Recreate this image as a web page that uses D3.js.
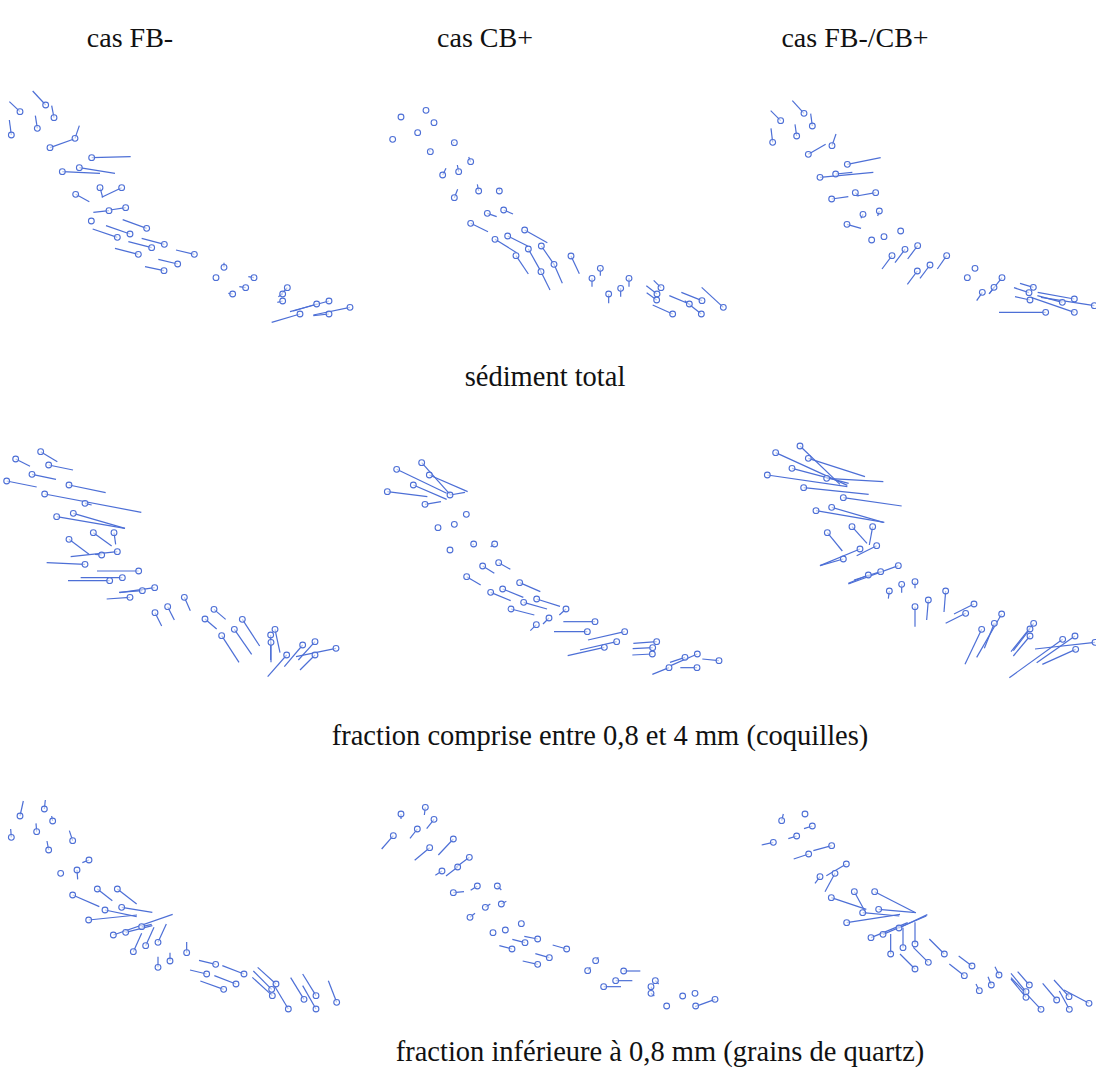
<!DOCTYPE html>
<html><head><meta charset="utf-8">
<script src="https://cdn.jsdelivr.net/npm/d3@7"></script>
<style>body{margin:0;background:#fff}svg{display:block}</style>
</head><body>
<script>
// Column / row labels
const columnTitles = ["cas FB-", "cas CB+", "cas FB-/CB+"];
const rowTitles = ["sédiment total", "fraction comprise entre 0,8 et 4 mm (coquilles)", "fraction inférieure à 0,8 mm (grains de quartz)"];

// Station vectors per panel: [x, y, u, v] in map grid units (y downward)
const p11 = [[60,80,-32,-30],[137,60,-39,-42],[162,98,-7,-36],[34,150,-6,-45],[112,130,-6,-38],[150,188,72,-26],[225,160,13,-38],[275,218,117,-3],[187,260,113,5],[238,248,107,17],[227,328,41,22],[300,308,8,29],[365,308,-60,29],[327,377,-47,5],[377,368,-47,7],[274,408,0,0],[440,430,-72,-26],[390,447,-72,-25],[352,457,-74,-25],[493,478,-68,-18],[455,488,-70,-18],[415,508,-70,-18],[583,508,-55,-13],[533,537,-58,-14],[492,557,-57,-12],[672,547,0,-14],[648,578,0,0],[762,578,-17,-3],[737,608,-19,-3],[698,627,-13,-2],[862,608,-22,24],[848,627,-13,8],[848,648,-16,4],[987,648,-117,32],[950,657,-70,21],[1050,667,-110,23],[987,687,-47,5],[900,687,-85,25]];
const p12 = [[108,66,0,0],[183,46,0,0],[207,83,0,0],[158,113,0,0],[83,133,0,0],[268,143,-4,0],[196,170,-3,-4],[317,200,-6,-14],[233,240,10,-20],[281,230,-4,-20],[268,308,10,-25],[341,288,-4,-20],[403,288,0,-8],[367,355,28,10],[416,345,28,12],[317,385,52,25],[479,405,68,38],[428,423,60,30],[390,433,65,40],[490,462,38,68],[453,482,37,55],[529,453,38,55],[528,530,27,55],[567,508,25,57],[618,483,25,53],[706,520,0,22],[681,550,0,25],[792,550,0,25],[731,597,0,28],[767,580,0,25],[888,578,-22,-22],[876,597,-32,-25],[875,615,-30,-22],[923,657,-60,-27],[1011,617,-62,-25],[973,627,-60,-25],[1009,657,-50,-40],[1075,637,-65,-60]];
const p13 = [[152,92,-30,-30],[222,70,-35,-38],[247,108,-5,-37],[128,157,-5,-42],[200,138,-5,-35],[235,193,52,-30],[306,167,12,-35],[352,223,100,-20],[270,262,160,-15],[317,252,50,-5],[305,327,50,-7],[376,308,10,10],[437,308,-57,10],[399,373,-6,12],[448,363,-5,15],[351,403,42,12],[425,450,0,0],[462,440,0,0],[512,423,0,0],[486,497,-30,40],[525,478,-30,40],[563,467,-30,40],[562,543,-30,40],[600,525,-30,40],[650,497,-28,40],[735,535,0,0],[712,563,0,0],[816,563,-38,48],[792,592,-15,20],[757,607,-17,25],[910,592,-40,-12],[897,608,-45,-15],[900,630,-45,-10],[997,637,-75,-20],[1033,627,-110,-20],[1093,647,-160,-25],[1033,667,-130,-45],[947,667,-140,0]];
const p21 = [[122,20,50,30],[47,42,43,22],[146,60,73,15],[96,88,72,15],[20,108,90,18],[207,120,110,23],[134,147,290,55],[255,175,20,5],[170,215,205,35],[220,205,155,45],[207,283,60,45],[280,263,55,40],[342,263,5,35],[352,320,-140,15],[305,330,-20,-2],[255,358,-115,-5],[416,378,-125,0],[367,398,-125,0],[329,407,-125,0],[464,428,-105,15],[427,437,-70,5],[390,457,-70,5],[465,503,20,40],[503,485,20,40],[553,457,18,40],[642,493,35,30],[615,522,35,30],[727,523,52,80],[703,553,52,75],[665,572,52,80],[825,553,15,70],[812,570,0,75],[813,592,0,60],[860,630,-57,65],[908,600,-55,65],[945,590,-50,55],[945,630,-45,45],[1008,610,-120,25]];
const p22 = [[95,58,150,72],[170,38,85,95],[193,75,115,50],[145,105,100,43],[67,125,120,15],[255,135,45,-8],[180,163,48,-8],[304,193,0,0],[219,233,0,0],[268,223,0,0],[255,300,0,0],[326,282,-3,3],[389,282,-12,8],[353,348,35,22],[401,338,35,20],[305,380,42,25],[464,398,62,27],[413,417,62,25],[377,427,60,25],[515,447,70,22],[476,457,70,20],[438,477,70,18],[603,477,-20,18],[552,504,-18,18],[514,524,-18,18],[690,515,-95,0],[667,545,-100,0],[779,545,-110,25],[755,575,-110,25],[718,592,-110,25],[875,575,-70,5],[863,593,-60,3],[862,612,-60,3],[997,612,-80,35],[960,622,-45,15],[1062,632,-50,-5],[996,653,-50,0],[912,653,-50,20]];
const p23 = [[137,38,215,98],[210,18,120,115],[235,55,170,55],[186,85,170,45],[112,105,240,35],[290,115,170,10],[221,143,195,20],[340,173,175,25],[258,212,205,35],[305,202,155,45],[292,278,45,55],[366,260,45,50],[428,260,-10,55],[390,327,-120,50],[440,317,-60,30],[340,357,-70,20],[505,377,-150,55],[452,395,-80,25],[415,405,-60,25],[478,453,-3,23],[515,433,0,25],[555,425,0,20],[555,500,0,60],[595,480,-5,60],[647,453,-5,63],[732,492,-60,30],[707,520,-60,30],[755,568,-50,105],[815,522,-75,130],[793,550,-30,75],[911,550,-68,85],[900,567,-50,65],[900,588,-50,60],[998,598,-160,115],[1035,588,-115,80],[1037,628,-100,45],[1095,607,-180,20]];
const p31 = [[60,78,10,-45],[133,57,3,-27],[158,93,-3,-15],[34,142,-2,-25],[110,125,-2,-25],[218,152,-10,-30],[146,180,-5,-27],[267,210,-20,8],[182,250,0,0],[231,240,2,28],[292,297,45,35],[352,297,58,45],[218,315,80,35],[315,360,95,20],[365,352,92,15],[266,390,145,-15],[340,435,178,-62],[377,427,80,-20],[425,410,30,-7],[400,485,25,-55],[437,467,25,-55],[474,457,25,-55],[560,488,0,-32],[474,532,0,-32],[510,513,0,-25],[647,523,-50,-12],[732,552,-65,-25],[620,552,-50,-12],[708,582,-65,-25],[671,598,-70,-25],[828,582,-55,-50],[815,598,-55,-55],[817,617,-60,-55],[865,657,-45,-75],[912,628,-40,-65],[948,617,-40,-65],[948,657,-40,-70],[1010,637,-25,-65]];
const p32 = [[108,57,0,15],[181,37,-3,23],[85,122,-35,40],[157,102,-22,28],[207,73,-22,28],[194,158,-45,38],[265,132,-45,48],[231,228,-20,13],[278,216,-35,27],[313,187,-40,30],[265,293,32,-3],[337,273,-20,13],[397,273,12,12],[315,367,15,-12],[361,337,15,-10],[409,327,15,-8],[384,413,0,0],[421,405,0,0],[469,386,0,0],[518,432,-40,-8],[480,443,-38,-10],[441,462,-38,-10],[605,462,-42,-12],[553,488,-42,-12],[518,508,-45,-10],[692,497,8,-10],[668,527,8,-10],[776,528,50,0],[752,557,50,0],[716,575,52,0],[871,557,10,10],[858,575,5,10],[858,595,10,8],[905,633,0,0],[953,603,0,0],[990,595,0,0],[992,633,0,0],[1050,613,-60,22]];
const p33 = [[155,62,5,-20],[225,42,0,0],[247,78,-25,8],[200,108,-25,8],[130,127,-35,8],[236,162,-45,15],[305,137,-55,15],[349,192,-60,35],[315,220,-30,55],[270,230,-15,20],[304,293,105,35],[373,275,35,65],[434,275,120,62],[398,338,110,10],[446,328,112,10],[350,368,160,-25],[423,413,110,-45],[459,403,130,-55],[507,384,85,-40],[482,462,0,-60],[519,443,0,-60],[555,432,0,-65],[643,462,-45,-45],[595,487,-45,-45],[555,507,-45,-45],[726,498,-40,-30],[703,527,-45,-35],[807,525,-12,-25],[784,555,-10,-25],[748,572,-10,-20],[898,555,-35,-40],[888,575,-45,-55],[888,592,-45,-55],[933,628,-90,-95],[980,600,-42,-50],[1017,590,-45,-50],[1018,628,-30,-55],[1077,610,-75,-40]];

const panels = [[p11,p12,p13],[p21,p22,p23],[p31,p32,p33]];

// Layout
const W = 1096, H = 1068;
const panelW = 365, panelH = 245;
const colX = [0, 365, 730];
const rowY = [[85,95,90],[445,450,440],[790,795,800]];
const colTitleX = [130, 485, 855];
const rowTitleY = [386, 745, 1061];
const rowTitleX = [545, 600, 660];
const blue = "#4d6fd6";
const serif = "'Liberation Serif','Times New Roman',Times,serif";

const svg = d3.select("body").append("svg").attr("width", W).attr("height", H);

svg.selectAll("text.col").data(columnTitles).join("text")
  .attr("class","col")
  .attr("x",(d,i)=>colTitleX[i]).attr("y",47)
  .attr("text-anchor","middle")
  .attr("font-family",serif)
  .attr("font-size",28).attr("fill","#111").text(d=>d);

svg.selectAll("text.row").data(rowTitles).join("text")
  .attr("class","row")
  .attr("x",(d,i)=>rowTitleX[i]).attr("y",(d,i)=>rowTitleY[i])
  .attr("text-anchor","middle")
  .attr("font-family",serif)
  .attr("font-size",28.5).attr("fill","#111").text(d=>d);

panels.forEach((row, r) => {
  row.forEach((data, c) => {
    const x = d3.scaleLinear().domain([0, 3*panelW]).range([colX[c], colX[c] + panelW]);
    const y = d3.scaleLinear().domain([0, 3*panelH]).range([rowY[r][c], rowY[r][c] + panelH]);
    const g = svg.append("g");
    g.selectAll("line").data(data).join("line")
      .attr("x1", d => x(d[0])).attr("y1", d => y(d[1]))
      .attr("x2", d => x(d[0] + d[2])).attr("y2", d => y(d[1] + d[3]))
      .attr("stroke", blue).attr("stroke-width", 1.2);
    g.selectAll("circle").data(data).join("circle")
      .attr("cx", d => x(d[0])).attr("cy", d => y(d[1]))
      .attr("r", 2.9).attr("fill", "#fff").attr("fill-opacity", 0.6)
      .attr("stroke", blue).attr("stroke-width", 1.1);
  });
});
</script>
</body></html>
